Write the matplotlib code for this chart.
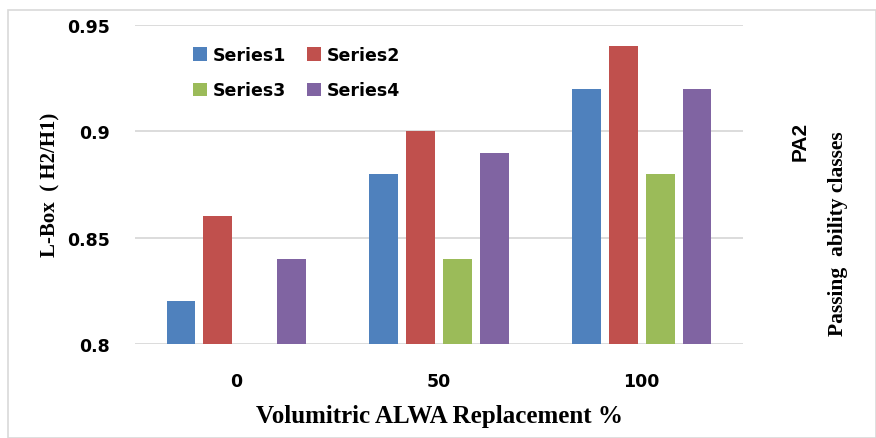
import numpy as np
import matplotlib.pyplot as plt
from matplotlib.patches import Rectangle

# data
categories = ['0', '50', '100']
series1 = [0.82, 0.88, 0.92]
series2 = [0.86, 0.90, 0.94]
series3 = [0.80, 0.84, 0.88]
series4 = [0.84, 0.89, 0.92]
names = ['Series1', 'Series2', 'Series3', 'Series4']
colors = ['#4F81BD', '#C0504D', '#9BBB59', '#8064A2']
yticks = [0.8, 0.85, 0.9, 0.95]
ytick_labels = ['0.8', '0.85', '0.9', '0.95']

fig = plt.figure(figsize=(8.76, 4.39), dpi=100)
W, H = 876, 439
ax = fig.add_axes([135/W, 1-345/H, (743-135)/W, (345-26)/H])

x = np.arange(len(categories))
step = 0.182
bw = 0.143
bars = []
for i, (vals, nm, c) in enumerate(zip([series1, series2, series3, series4], names, colors)):
    b = ax.bar(x + (i-1.5)*step, np.array(vals)-0.8, bottom=0.8, width=bw, color=c, label=nm, zorder=3)
    bars.append(b)

ax.set_xlim(-0.5, 2.5)
ax.set_ylim(0.8, 0.95)
ax.set_yticks(yticks)
ax.set_yticklabels(ytick_labels)
ax.set_xticks(x)
ax.set_xticklabels(categories)
ax.grid(axis='y', color='#D9D9D9', lw=1.3, zorder=0)
for s in ax.spines.values():
    s.set_visible(False)
ax.tick_params(length=0)
ax.tick_params(axis='y', pad=18)
ax.tick_params(axis='x', pad=20)
for lb in ax.get_xticklabels() + ax.get_yticklabels():
    lb.set_fontfamily('DejaVu Sans')
    lb.set_fontweight('bold')
    lb.set_fontsize(12.5)

ax.set_xlabel('Volumitric ALWA Replacement %', family='Liberation Serif', fontweight='bold', fontsize=18, labelpad=10)
fig.text(50/W, 1-185/H, 'L-Box  ( H2/H1)', rotation=90, ha='center', va='center',
         family='Liberation Serif', fontweight='bold', fontsize=15)

fig.text(800/W, 1-141/H, 'PA2', rotation=90, ha='center', va='center',
         family='Liberation Sans', fontweight='bold', fontsize=15)
fig.text(838/W, 1-234/H, 'Passing  ability classes', rotation=90, ha='center', va='center',
         family='Liberation Serif', fontweight='bold', fontsize=15.5)

# row-wise legend order
order = [0, 2, 1, 3]
leg = fig.legend([bars[k] for k in order], [names[k] for k in order], ncol=2,
                 loc='upper left', bbox_to_anchor=(193/W, 1-47/H), frameon=False,
                 prop={'family': 'DejaVu Sans', 'weight': 'bold', 'size': 12.5},
                 handlelength=0.8, handleheight=0.8, columnspacing=1.2, handletextpad=0.35,
                 labelspacing=1.0, borderpad=0, borderaxespad=0)

fig.patches.append(Rectangle((8/W, 0), 1-8/W, 1-11/H, transform=fig.transFigure,
                             fill=False, edgecolor='#D9D9D9', lw=1.2))

fig.savefig('out.png', dpi=100)
